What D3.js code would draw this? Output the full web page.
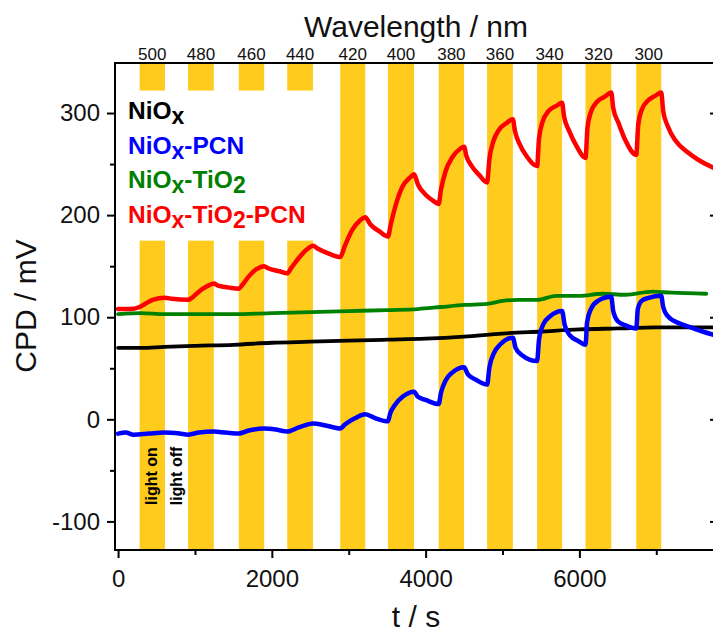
<!DOCTYPE html>
<html>
<head>
<meta charset="utf-8">
<script src="https://cdn.jsdelivr.net/npm/d3@7"></script>
<style>
	body { margin: 0; background: #fff; }
	text { font-family: "Liberation Sans", Arial, sans-serif; }
</style>
</head>
<body>
<div id="graph"></div>
<script>
// light on / light off times (s) and the wavelength of each pulse
var lightOn  = [280, 910, 1570, 2200, 2890, 3510, 4170, 4800, 5450, 6080, 6740];
var lightOff = [610, 1245, 1900, 2535, 3215, 3850, 4500, 5135, 5775, 6415, 7065];
var wavelengths = [500, 480, 460, 440, 420, 400, 380, 360, 340, 320, 300];
var barGap = [true, true, true, true, false, false, false, false, false, false, false];

var xTicks = [0, 2000, 4000, 6000];
var xMinor = [1000, 3000, 5000, 7000];
var yTicks = [-100, 0, 100, 200, 300];
var yMinor = [-50, 50, 150, 250];

var names = ["NiOx", "NiOx-PCN", "NiOx-TiO2", "NiOx-TiO2-PCN"];
var colors = ["#000000", "#0000ff", "#008000", "#ff0000"];

// [t, CPD]
var niox = [[0,70],[300,70],[600,71],[1000,72],[1500,73],[2000,75],[2500,76],[3000,77],[3500,78],
	[4000,79],[4500,81],[5000,84],[5500,86],[6000,88],[6500,89],[7000,90],[7790,90]];

var nioxPcn = [[0,-14],[100,-13],[200,-15],[400,-14],[600,-13],[800,-14],[910,-15],[1050,-13],
	[1245,-12],[1400,-13],[1570,-14],[1700,-11],[1900,-9],[2050,-10],[2200,-12],[2350,-8],
	[2535,-4],[2700,-6],[2890,-9],[2950,-5],[3080,1],[3215,5],[3350,1],[3510,-2],
	[3540,6],[3600,14],[3700,22],[3850,27],[3900,22],[4000,19],[4170,15],
	[4200,26],[4260,38],[4350,46],[4500,51],[4550,44],[4650,39],[4800,34],
	[4830,51],[4890,65],[4980,74],[5135,80],[5170,70],[5250,63],[5450,57],
	[5475,78],[5530,93],[5620,101],[5775,106],[5810,92],[5880,82],[5980,77],[6080,73],
	[6100,95],[6150,108],[6240,116],[6415,120],[6440,106],[6500,96],[6600,92],[6740,89],
	[6760,108],[6810,116],[6900,119],[7065,121],[7090,110],[7150,101],[7300,94],[7450,90],[7600,86],[7790,82]];

var nioxTio2 = [[0,103],[300,104],[600,103],[1000,103],[1500,103],[2000,104],[2500,105],[3000,106],
	[3500,107],[3900,108],[4200,110],[4500,112],[4800,113],[5000,116],[5200,117],[5450,117],
	[5700,121],[6000,121],[6300,123],[6600,122],[6950,125],[7200,124],[7650,123]];

var nioxTio2Pcn = [[0,108],[150,108],[280,110],[350,113],[450,117],[610,119],[700,118],[910,117],
	[960,119],[1050,125],[1150,130],[1245,133],[1300,131],[1450,129],[1570,128],
	[1620,132],[1700,140],[1800,147],[1900,150],[1950,148],[2100,145],[2200,143],
	[2250,148],[2350,158],[2450,166],[2535,170],[2600,167],[2750,162],[2890,159],
	[2950,170],[3050,186],[3150,195],[3215,198],[3280,191],[3400,184],[3510,179],
	[3550,192],[3620,212],[3700,228],[3800,237],[3850,240],[3900,230],[4000,220],[4100,214],[4170,211],
	[4200,225],[4260,243],[4350,257],[4450,265],[4500,267],[4530,258],[4600,248],[4700,239],[4800,232],
	[4830,255],[4880,272],[4950,283],[5050,290],[5135,294],[5160,283],[5220,270],[5320,257],[5450,248],
	[5475,275],[5520,291],[5600,302],[5700,307],[5775,310],[5800,297],[5870,282],[5960,268],[6080,256],
	[6105,285],[6150,301],[6230,311],[6330,316],[6415,320],[6440,305],[6510,290],[6600,273],[6740,259],
	[6765,288],[6810,303],[6890,312],[6990,317],[7065,320],[7090,302],[7150,287],[7250,273],
	[7400,262],[7550,254],[7790,245]];

var series = [niox, nioxPcn, nioxTio2, nioxTio2Pcn];

var svg = d3.select("#graph")
	.append("svg")
	.attr("width", 713)
	.attr("height", 635);

var x = d3.scaleLinear().domain([-40, 7790]).range([115, 717]);
var y = d3.scaleLinear().domain([-128, 349]).range([550, 63]);
var gapLow = 175, gapHigh = 322;

// yellow light pulses
var bars = [];
lightOn.forEach(function(t, i) {
	if (barGap[i]) {
		bars.push({t0: t, t1: lightOff[i], v0: -128, v1: gapLow});
		bars.push({t0: t, t1: lightOff[i], v0: gapHigh, v1: 349});
	} else {
		bars.push({t0: t, t1: lightOff[i], v0: -128, v1: 349});
	}
});

svg.selectAll("rect.bar")
	.data(bars)
	.enter()
	.append("rect")
	.attr("class", "bar")
	.attr("x", function(d) { return x(d.t0); })
	.attr("width", function(d) { return x(d.t1) - x(d.t0); })
	.attr("y", function(d) { return y(d.v1); })
	.attr("height", function(d) { return y(d.v0) - y(d.v1); })
	.attr("fill", "#ffcc1e");

// curves
var line = d3.line()
	.x(function(d) { return x(d[0]); })
	.y(function(d) { return y(d[1]); })
	.curve(d3.curveMonotoneX);

var order = [0, 2, 1, 3];
svg.append("g")
	.selectAll("path")
	.data(order)
	.enter()
	.append("path")
	.attr("d", function(i) { return line(series[i]); })
	.attr("fill", "none")
	.attr("stroke", function(i) { return colors[i]; })
	.attr("stroke-width", function(i) { return i == 0 || i == 2 ? 3.8 : 4.5; })
	.attr("stroke-linejoin", "round")
	.attr("stroke-linecap", "round");

// axes
function styleAxis(g, size) {
	g.select(".domain").remove();
	g.selectAll("line").attr("stroke", "#000").attr("stroke-width", 2);
	g.selectAll("text")
		.attr("font-size", size)
		.attr("fill", "#111")
		.style("font-family", "'Liberation Sans', Arial, sans-serif");
}

var plain = function(d) { return String(d); };

svg.append("g")
	.attr("transform", "translate(0,550)")
	.call(d3.axisBottom(x).tickValues(xTicks).tickSize(8).tickPadding(12).tickFormat(plain))
	.call(styleAxis, 24);
svg.append("g")
	.attr("transform", "translate(0,550)")
	.call(d3.axisBottom(x).tickValues(xMinor).tickSize(5).tickFormat(""))
	.call(styleAxis, 24);

svg.append("g")
	.attr("transform", "translate(115,0)")
	.call(d3.axisLeft(y).tickValues(yTicks).tickSize(8).tickPadding(7).tickFormat(plain))
	.call(styleAxis, 24);
svg.append("g")
	.attr("transform", "translate(115,0)")
	.call(d3.axisLeft(y).tickValues(yMinor).tickSize(5).tickFormat(""))
	.call(styleAxis, 24);

// right axis, ticks inward (mostly off the page)
svg.append("g")
	.attr("transform", "translate(717,0)")
	.call(d3.axisLeft(y).tickValues(yTicks).tickSize(7).tickFormat(""))
	.call(styleAxis, 24);

// frame
svg.append("path")
	.attr("d", "M" + x.range()[0] + "," + y.range()[1] + "V" + y.range()[0] + "H" + x.range()[1])
	.attr("fill", "none")
	.attr("stroke", "#000")
	.attr("stroke-width", 2);
svg.append("line")
	.attr("x1", 114).attr("x2", 717)
	.attr("y1", 63).attr("y2", 63)
	.attr("stroke", "#000")
	.attr("stroke-width", 2);

// top wavelength labels
svg.selectAll("text.wl")
	.data(wavelengths)
	.enter()
	.append("text")
	.attr("class", "wl")
	.attr("x", function(d, i) { return x((lightOn[i] + lightOff[i]) / 2); })
	.attr("y", 60)
	.attr("text-anchor", "middle")
	.attr("font-size", 17)
	.attr("fill", "#111")
	.text(function(d) { return d; });

svg.append("text")
	.attr("x", 416)
	.attr("y", 37)
	.attr("text-anchor", "middle")
	.attr("font-size", 30)
	.attr("fill", "#111")
	.text("Wavelength / nm");

svg.append("text")
	.attr("x", 416)
	.attr("y", 627)
	.attr("text-anchor", "middle")
	.attr("font-size", 30)
	.attr("fill", "#111")
	.text("t / s");

svg.append("text")
	.attr("transform", "translate(36,306) rotate(-90)")
	.attr("text-anchor", "middle")
	.attr("font-size", 30)
	.attr("fill", "#111")
	.text("CPD / mV");

// legend with subscripts
var legend = svg.selectAll("text.leg")
	.data(names)
	.enter()
	.append("text")
	.attr("class", "leg")
	.attr("x", 128)
	.attr("y", function(d, i) { return 119 + i * 34.7; })
	.attr("font-size", 24.5)
	.attr("font-weight", "bold")
	.attr("fill", function(d, i) { return colors[i]; });

legend.each(function(d) {
	var t = d3.select(this);
	var parts = d.split(/(x|2)/);
	var shifted = false;
	parts.forEach(function(p) {
		if (p == "") return;
		if (p == "x" || p == "2") {
			t.append("tspan").attr("dy", 5).attr("font-size", 23).text(p);
			shifted = true;
		} else {
			t.append("tspan").attr("dy", shifted ? -5 : 0).text(p);
			shifted = false;
		}
	});
});

// light on / off notes
svg.append("text")
	.attr("transform", "translate(" + (x((lightOn[0] + lightOff[0]) / 2) + 5) + ",476) rotate(-90)")
	.attr("text-anchor", "middle")
	.attr("font-size", 16)
	.attr("font-weight", "bold")
	.attr("fill", "#000")
	.text("light on");
svg.append("text")
	.attr("transform", "translate(" + (x((lightOff[0] + lightOn[1]) / 2) + 5) + ",476) rotate(-90)")
	.attr("text-anchor", "middle")
	.attr("font-size", 16)
	.attr("font-weight", "bold")
	.attr("fill", "#000")
	.text("light off");
</script>
</body>
</html>
